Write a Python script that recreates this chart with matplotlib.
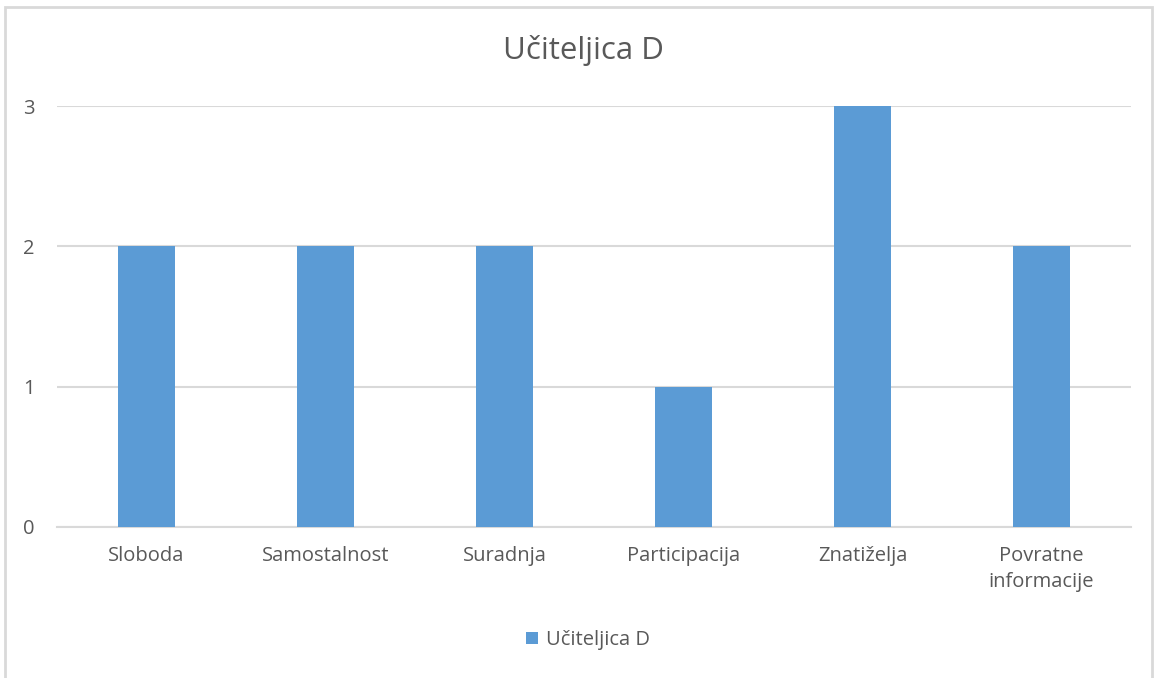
import matplotlib.pyplot as plt
from matplotlib.patches import Rectangle

categories = ['Sloboda', 'Samostalnost', 'Suradnja', 'Participacija',
              'Znatiželja', 'Povratne\ninformacije']
values = [2, 2, 2, 1, 3, 2]
series_name = 'Učiteljica D'
title = 'Učiteljica D'

bar_color = '#5B9BD5'
text_color = '#595959'
grid_color = '#D9D9D9'

plt.rcParams['font.family'] = ['Open Sans', 'DejaVu Sans']

fig = plt.figure(figsize=(11.58, 6.78), dpi=100)
ax = fig.add_axes([57 / 1158, 1 - 527 / 678, (1131 - 57) / 1158, (527 - 106) / 678])

x = list(range(len(categories)))
ax.bar(x, values, width=0.32, color=bar_color, label=series_name, zorder=3)

ax.set_xlim(-0.5, len(categories) - 0.5)
ax.set_ylim(0, 3)
ax.set_yticks([0, 1, 2, 3])
ax.set_xticks(x)
ax.set_xticklabels(categories, fontsize=14.5, color=text_color, linespacing=1.35)
ax.tick_params(axis='y', labelsize=14.5, labelcolor=text_color, length=0, pad=16)
ax.tick_params(axis='x', length=0, pad=14)
ax.grid(axis='y', color=grid_color, linewidth=1.5, zorder=0)
for s in ['top', 'right', 'left']:
    ax.spines[s].set_visible(False)
ax.spines['bottom'].set_color(grid_color)
ax.spines['bottom'].set_linewidth(1.5)

fig.text(583 / 1158, 1 - 50 / 678, title, ha='center', va='center',
         fontsize=22.5, color=text_color)

fig.legend(loc='center', bbox_to_anchor=(588 / 1158, 1 - 640 / 678), frameon=False,
           fontsize=14.5, labelcolor=text_color, handlelength=0.6, handleheight=0.6,
           handletextpad=0.4)

# chart border
fig.patches.append(Rectangle((5 / 1158, -0.01), 1147 / 1158, 1 - 7 / 678 + 0.01,
                             transform=fig.transFigure, fill=False,
                             edgecolor=grid_color, linewidth=2))

fig.savefig('out.png', dpi=100)
